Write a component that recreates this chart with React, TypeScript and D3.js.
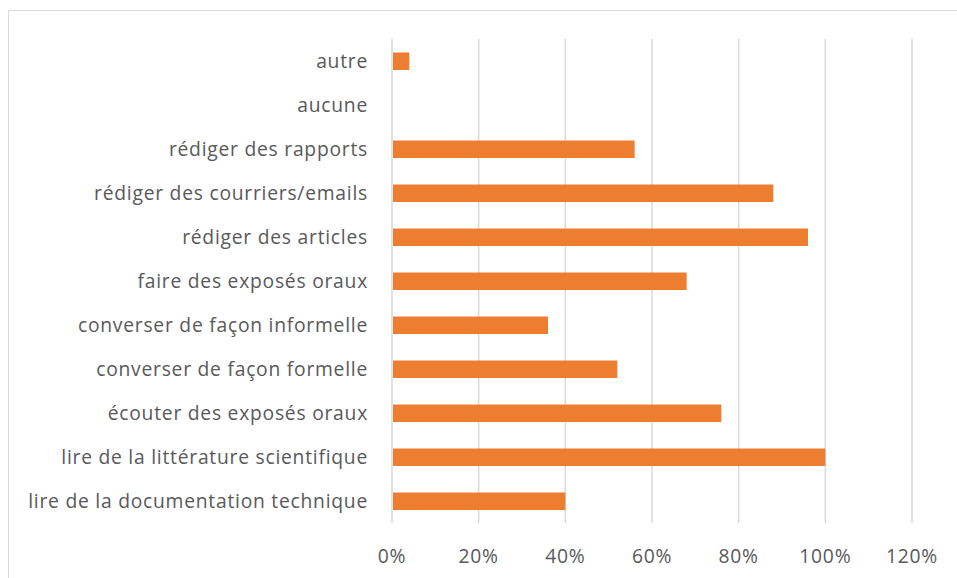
import React from "react";
import * as d3 from "d3";

const categories = [
  "autre",
  "aucune",
  "rédiger des rapports",
  "rédiger des courriers/emails",
  "rédiger des articles",
  "faire des exposés oraux",
  "converser de façon informelle",
  "converser de façon formelle",
  "écouter des exposés oraux",
  "lire de la littérature scientifique",
  "lire de la documentation technique",
];
const values = [0.04, 0, 0.56, 0.88, 0.96, 0.68, 0.36, 0.52, 0.76, 1.0, 0.4];
const ticks = [0, 0.2, 0.4, 0.6, 0.8, 1.0, 1.2];

const W = 957;
const H = 578;
const left = 392;
const right = 912;
const top = 39;
const bottom = 523;

export default function App() {
  const x = d3.scaleLinear().domain([0, 1.2]).range([left, right]);
  const band = d3.scaleBand().domain(categories).range([top, bottom]);
  const font = "'Open Sans', sans-serif";
  return (
    <svg width={W} height={H} style={{ position: "absolute", left: 0, top: 0 }}>
      <rect x={0} y={0} width={W} height={H} fill="#fff" />
      <rect x={8.5} y={10.5} width={W + 20} height={H + 20} fill="none" stroke="#d9d9d9" strokeWidth={1} />
      {ticks.map((t) => (
        <line key={t} x1={x(t)} x2={x(t)} y1={top} y2={bottom} stroke="#d9d9d9" strokeWidth={1.5} />
      ))}
      {categories.map((c, i) => (
        <g key={c}>
          <rect x={x(0) + 1} y={band(c)! + band.bandwidth() / 2 - 8.5} width={Math.max(0, x(values[i]) - x(0) - 1)} height={17.5} fill="#ED7D31" />
          <text x={368} y={band(c)! + band.bandwidth() / 2} dy="0.35em" textAnchor="end" fontFamily={font} fontSize={19.3} letterSpacing={0.75} fill="#595959">
            {c}
          </text>
        </g>
      ))}
      {ticks.map((t) => (
        <text key={t} x={x(t)} y={556} dy="0.35em" textAnchor="middle" fontFamily={font} fontSize={19.3} letterSpacing={0.75} fill="#595959">
          {d3.format(".0%")(t)}
        </text>
      ))}
    </svg>
  );
}
